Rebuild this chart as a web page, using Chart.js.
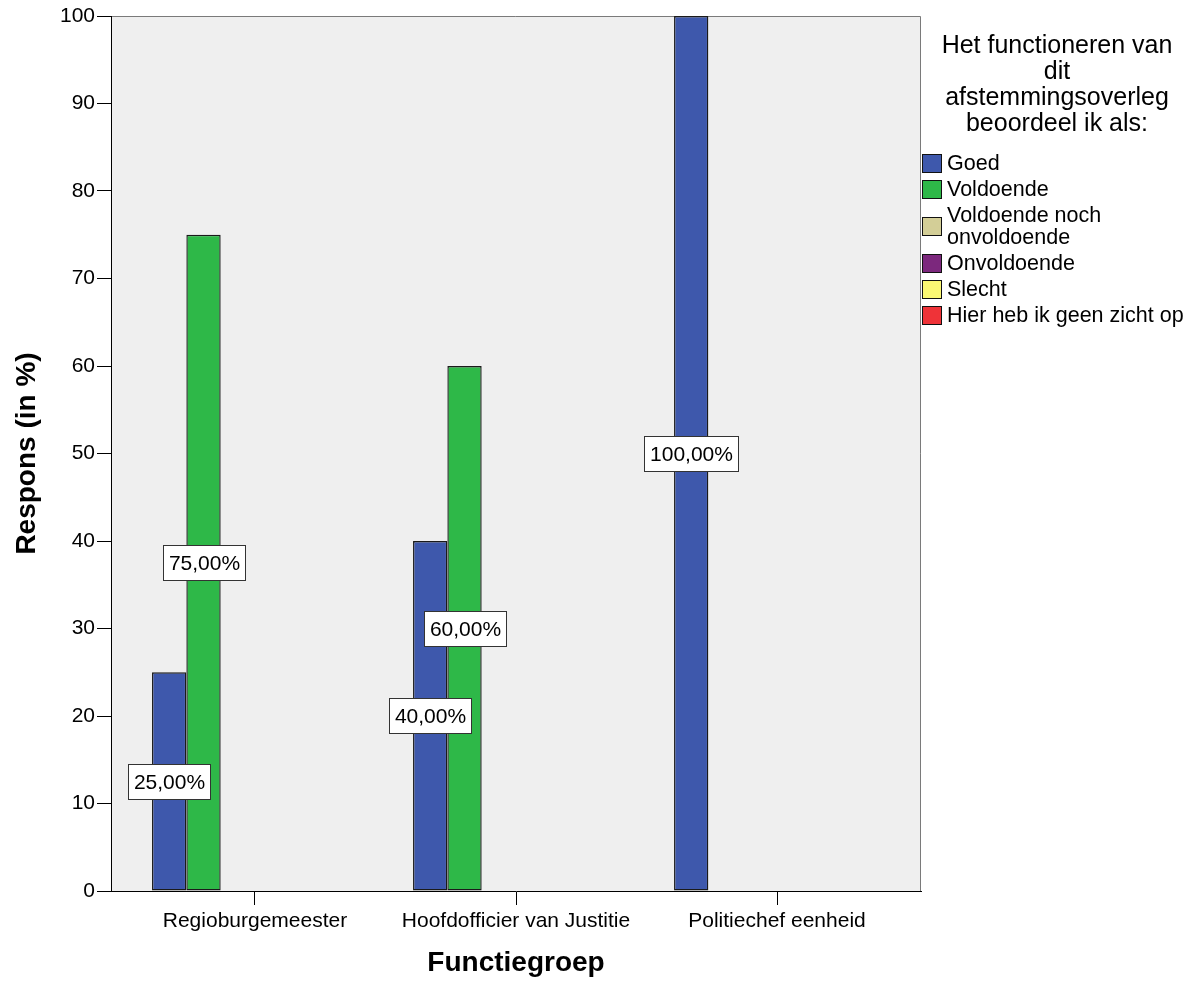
<!DOCTYPE html>
<html>
<head>
<meta charset="utf-8">
<title>Functiegroep</title>
<script src="https://cdn.jsdelivr.net/npm/chart.js@4/dist/chart.umd.min.js"></script>
<style>
    body { margin: 0; background: #fff; }
    #wrap { position: relative; width: 1194px; height: 985px; }
    #legend { position: absolute; left: 922px; top: 0; width: 272px; font-family: 'Liberation Sans', Arial, sans-serif; color: #000; }
    #legendTitle { position: absolute; left: 0; top: 31px; width: 270px; text-align: center; font-size: 25px; line-height: 26px; }
    #legendItems { position: absolute; left: 0; top: 150px; width: 272px; }
    .item { display: flex; align-items: center; padding: 2px 0; }
    .swatch { width: 18px; height: 17px; border: 1px solid #111; flex: none; }
    .label { margin-left: 5px; font-size: 21.5px; line-height: 22px; width: 247px; }
</style>
</head>
<body>
<div id="wrap">
    <canvas id="chart" width="1194" height="985"></canvas>
    <div id="legend">
        <div id="legendTitle"></div>
        <div id="legendItems"></div>
    </div>
</div>
<script>
const categories = ['Regioburgemeester', 'Hoofdofficier van Justitie', 'Politiechef eenheid'];
const seriesNames = ['Goed', 'Voldoende', 'Voldoende noch onvoldoende', 'Onvoldoende', 'Slecht', 'Hier heb ik geen zicht op'];
const seriesColors = ['#3E58AC', '#2EB848', '#D3CE97', '#7C287D', '#FBF873', '#EF3338'];

const goed = [25, 40, 100];
const voldoende = [75, 60, 0];
const voldoendeNoch = [0, 0, 0];
const onvoldoende = [0, 0, 0];
const slecht = [0, 0, 0];
const geenZicht = [0, 0, 0];

const yTicks = [0, 10, 20, 30, 40, 50, 60, 70, 80, 90, 100];
const legendTitle = ['Het functioneren van', 'dit', 'afstemmingsoverleg', 'beoordeel ik als:'];

const seriesData = [goed, voldoende, voldoendeNoch, onvoldoende, slecht, geenZicht];

// legend on the right
document.getElementById('legendTitle').innerHTML = legendTitle.join('<br>');
const legendItems = document.getElementById('legendItems');
seriesNames.forEach((name, i) => {
    const row = document.createElement('div');
    row.className = 'item';
    const sw = document.createElement('div');
    sw.className = 'swatch';
    sw.style.background = seriesColors[i];
    const lab = document.createElement('div');
    lab.className = 'label';
    lab.textContent = name;
    row.append(sw, lab);
    legendItems.append(row);
});

const fontFamily = "'Liberation Sans', Arial, sans-serif";
Chart.defaults.font.family = fontFamily;
Chart.defaults.color = '#000';

// grey plot background + top/right frame lines
const plotFrame = {
    id: 'plotFrame',
    beforeDraw(chart) {
        const { ctx, chartArea: a } = chart;
        ctx.save();
        ctx.fillStyle = '#EFEFEF';
        ctx.fillRect(a.left, a.top, a.right - a.left, a.bottom - a.top);
        ctx.strokeStyle = '#7a7a7a';
        ctx.lineWidth = 1;
        ctx.beginPath();
        ctx.moveTo(a.left, a.top + 0.5);
        ctx.lineTo(a.right - 0.5, a.top + 0.5);
        ctx.lineTo(a.right - 0.5, a.bottom);
        ctx.stroke();
        ctx.restore();
    }
};

// boxed percentage labels at bar mid-height
const valueLabels = {
    id: 'valueLabels',
    afterDatasetsDraw(chart) {
        const ctx = chart.ctx;
        ctx.save();
        ctx.font = '21px ' + fontFamily;
        ctx.textAlign = 'center';
        ctx.textBaseline = 'middle';
        chart.data.datasets.forEach((ds, di) => {
            const meta = chart.getDatasetMeta(di);
            ds.data.forEach((v, i) => {
                if (!v) return;
                const bar = meta.data[i];
                const txt = v.toFixed(2).replace('.', ',') + '%';
                const w = Math.round(ctx.measureText(txt).width + 11);
                const h = 35;
                const x = Math.round(bar.x - w / 2);
                const y = Math.round((bar.y + bar.base) / 2 - h / 2);
                ctx.fillStyle = '#fff';
                ctx.fillRect(x, y, w, h);
                ctx.strokeStyle = '#333';
                ctx.lineWidth = 1;
                ctx.strokeRect(x + 0.5, y + 0.5, w, h);
                ctx.fillStyle = '#000';
                ctx.fillText(txt, x + w / 2 + 0.5, y + h / 2 + 1.5);
            });
        });
        ctx.restore();
    }
};

const ctx = document.getElementById('chart').getContext('2d');
new Chart(ctx, {
    type: 'bar',
    data: {
        labels: categories.map((c, i) => i),
        datasets: seriesNames.map((name, i) => ({
            label: name,
            data: seriesData[i],
            backgroundColor: seriesColors[i],
            borderColor: '#1a1a1a',
            borderWidth: 1.4,
            borderSkipped: false,
            categoryPercentage: 0.789,
            barPercentage: 1
        }))
    },
    options: {
        responsive: false,
        animation: false,
        layout: { padding: { left: 0, right: 273, top: 16, bottom: 0 } },
        plugins: {
            legend: { display: false },
            tooltip: { enabled: false }
        },
        scales: {
            x: {
                type: 'linear',
                offset: false,
                min: -0.5517,
                max: 2.5517,
                bounds: 'data',
                afterBuildTicks: (scale) => { scale.ticks = categories.map((c, i) => ({ value: i })); },
                afterFit: (scale) => { scale.height = 94; },
                ticks: {
                    callback: (v) => categories[v],
                    font: { size: 21 },
                    padding: 4,
                    autoSkip: false,
                    maxRotation: 0
                },
                grid: { offset: false, drawOnChartArea: false, drawTicks: true, tickLength: 14, color: '#000' },
                border: { color: '#000', width: 1 },
                title: {
                    display: true,
                    text: 'Functiegroep',
                    font: { size: 28, weight: 'bold' },
                    padding: { top: 0, bottom: 5 }
                }
            },
            y: {
                min: 0,
                max: 100,
                afterBuildTicks: (scale) => { scale.ticks = yTicks.map(v => ({ value: v })); },
                afterFit: (scale) => { scale.width = 111; },
                ticks: { font: { size: 21 }, padding: 2 },
                grid: { drawOnChartArea: false, drawTicks: true, tickLength: 14, color: '#000' },
                border: { color: '#000', width: 1 },
                title: {
                    display: true,
                    text: 'Respons (in %)',
                    font: { size: 28, weight: 'bold' },
                    padding: { top: 10, bottom: 0 }
                }
            }
        }
    },
    plugins: [plotFrame, valueLabels]
});
</script>
</body>
</html>
